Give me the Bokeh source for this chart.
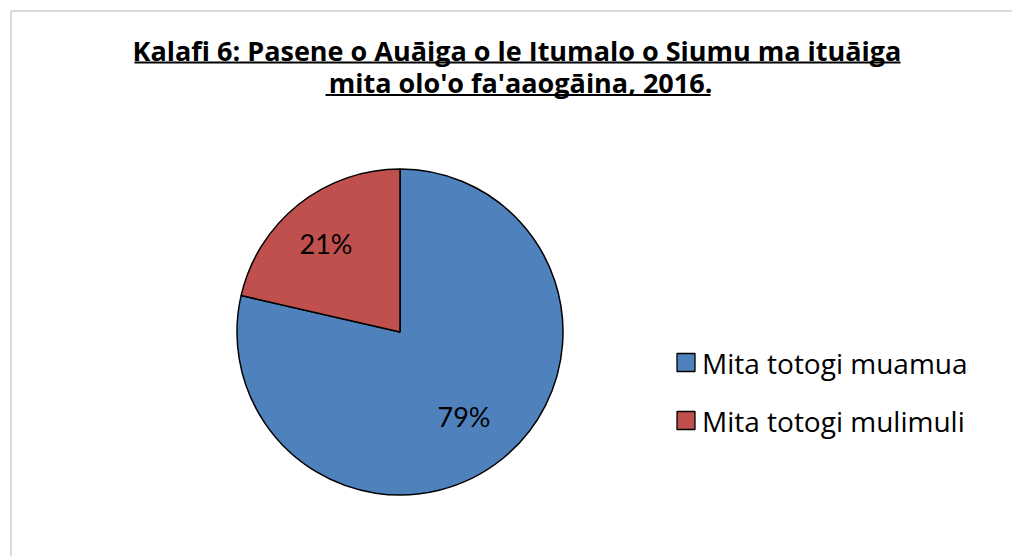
import math
from bokeh.plotting import figure
from bokeh.models import Range1d, BoxAnnotation, ColumnDataSource
from bokeh.core.properties import value
from bokeh.embed import file_html
from bokeh.resources import INLINE

# ---- data ----
categories = ["Mita totogi muamua", "Mita totogi mulimuli"]
shares = [78.6, 21.4]
colors = ["#4F81BD", "#C0504D"]
title_lines = [" Kalafi 6: Pasene o Auāiga o le Itumalo o Siumu ma ituāiga",
               "mita olo'o fa'aaogāina, 2016."]

W, H = 1012, 556

p = figure(width=W, height=H, output_backend="svg", toolbar_location=None,
           x_range=Range1d(0, W), y_range=Range1d(0, H), min_border=0)
p.axis.visible = False
p.grid.visible = False
p.outline_line_color = None
p.background_fill_color = "white"
p.border_fill_color = "white"

# chart frame
p.add_layout(BoxAnnotation(left=10.5, right=W + 10, top=H - 10.5, bottom=-10,
                           fill_alpha=0, line_color="#868686", line_width=2))

# pie geometry
cx, cy, r = 399.5, 224.5, 163
total = sum(shares)
starts, ends = [], []
a0 = math.pi / 2
starts.append(a0 - 2 * math.pi * shares[0] / total); ends.append(a0)
acc = a0
for v in shares[1:]:
    e = acc + 2 * math.pi * v / total
    starts.append(acc); ends.append(e)
    acc = e
mids = [(s + e) / 2 for s, e in zip(starts, ends)]
labels = [f"{round(v / total * 100)}%" for v in shares]
lab_r = 0.68 * r
src = ColumnDataSource(dict(cat=categories, start=starts, end=ends, color=colors,
                            lx=[cx + lab_r * math.cos(m) for m in mids],
                            ly=[cy + lab_r * math.sin(m) for m in mids],
                            lab=labels))
p.wedge(x=cx, y=cy, radius=r, start_angle="start", end_angle="end", source=src,
        fill_color="color", line_color="black", line_width=1.5, direction="anticlock")
p.text(x="lx", y="ly", text="lab", source=src, text_font=value("Lato"),
       text_font_size="27px", text_align="center", text_baseline="middle", text_color="black",
       x_offset=-5, y_offset=-2)

# legend (manual)
lg_x, lg_y0, lg_step = 685.5, 194, 58
n = len(categories)
leg = ColumnDataSource(dict(x=[lg_x] * n,
                            y=[lg_y0 - i * lg_step for i in range(n)],
                            tx=[lg_x + 16] * n,
                            color=colors, cat=categories))
p.rect(x="x", y="y", width=18, height=18, fill_color="color", line_color="black",
       line_width=1.3, source=leg)
p.text(x="tx", y="y", text="cat", source=leg, text_font=value("Open Sans"),
       text_font_size="28px", text_baseline="middle", text_color="black")

# title
tcx = 520
p.text(x=[tcx, tcx], y=[506, 474], text=title_lines, text_font=value("Open Sans"),
       text_font_style="bold", text_font_size="27px", text_align="center",
       text_baseline="middle", text_color="black")
p.segment(x0=[134, 325], y0=[494, 461.5], x1=[900, 710], y1=[494, 461.5],
          line_color="black", line_width=2)

open("out.html", "w").write(file_html(p, INLINE))
